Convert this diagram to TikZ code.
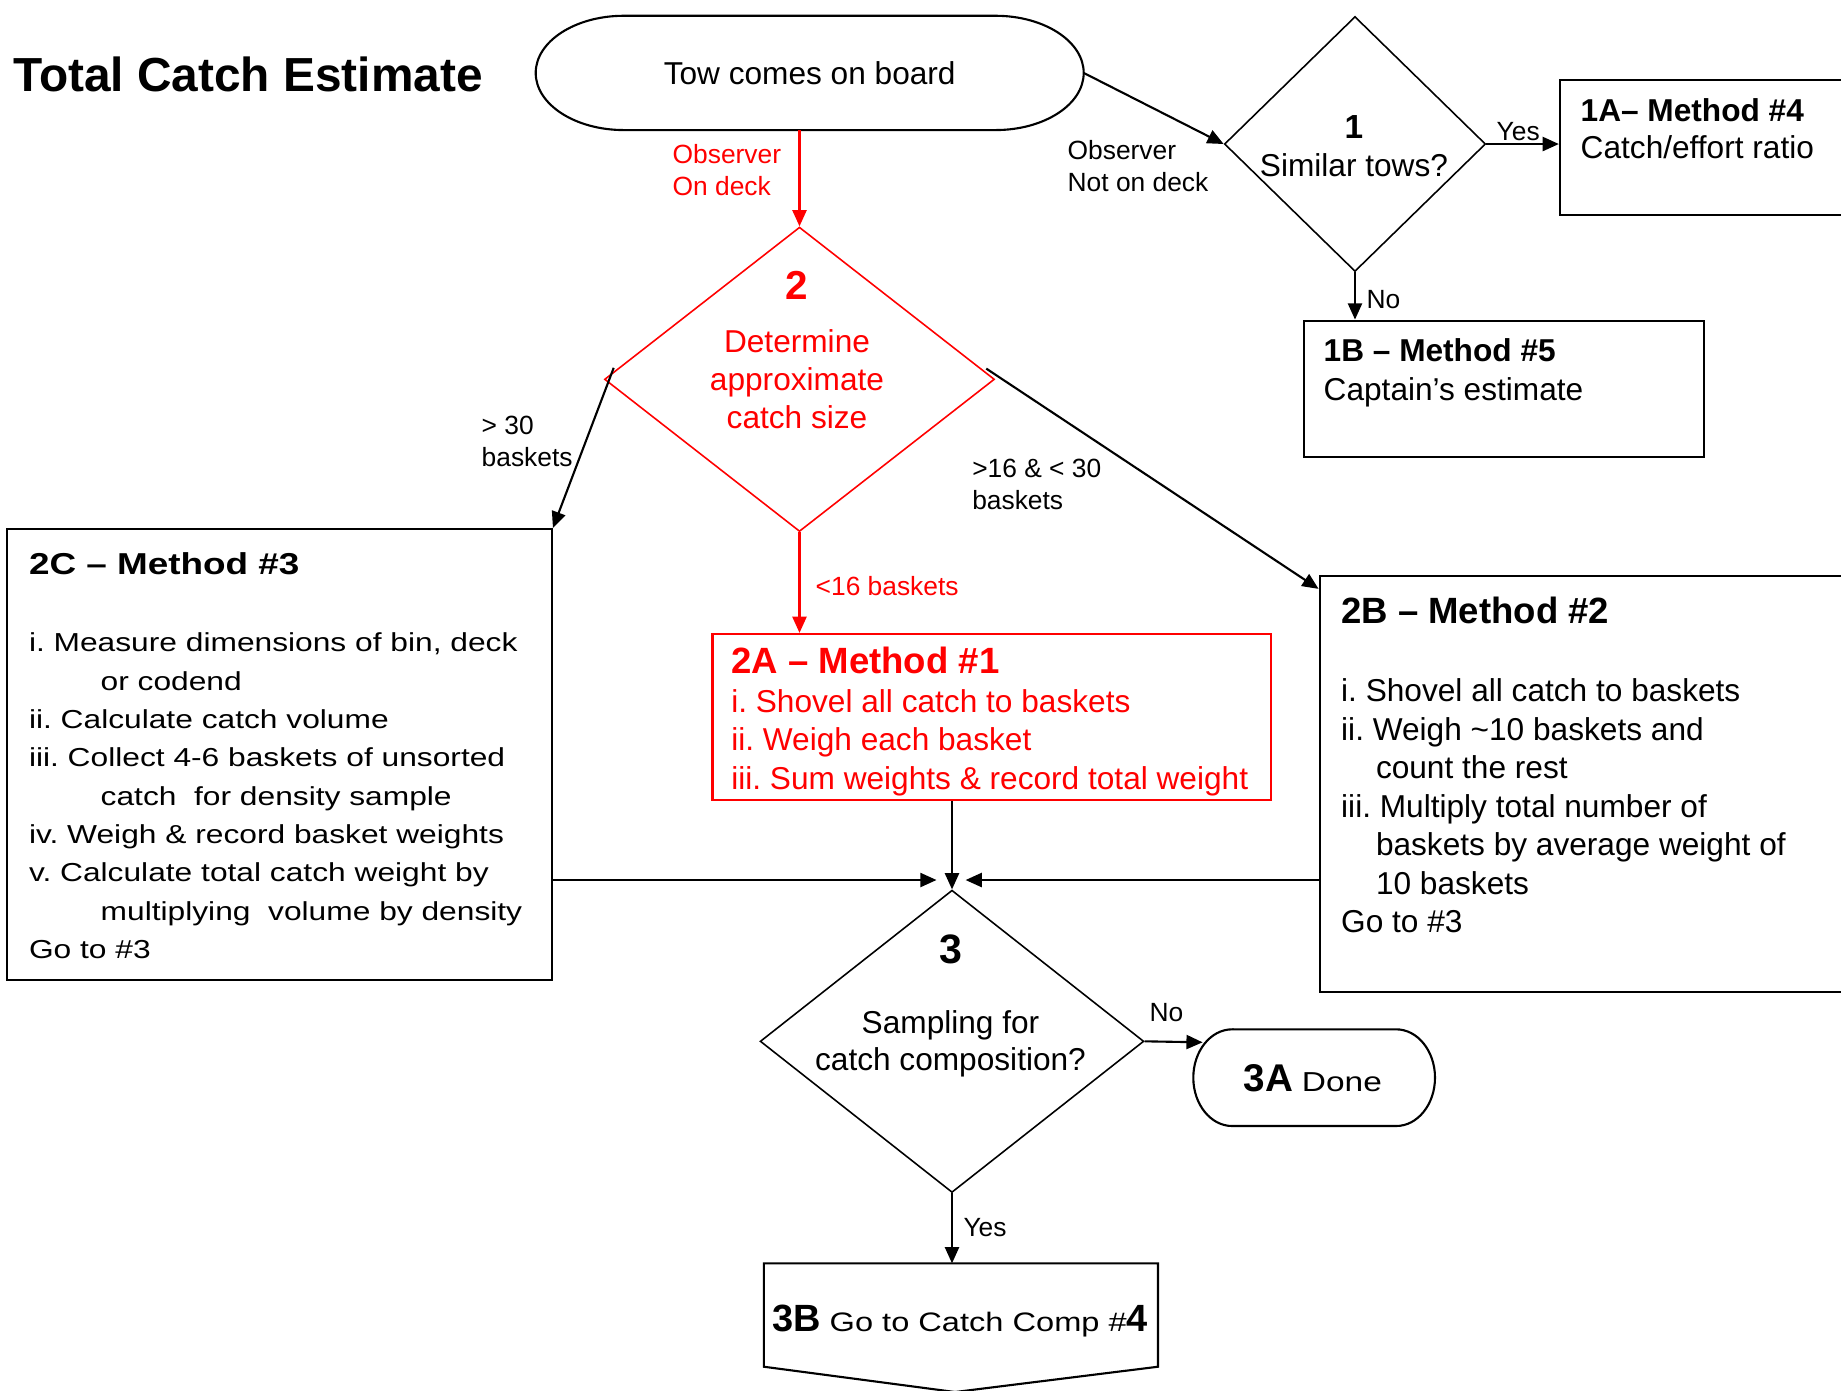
\documentclass[tikz,border=0pt]{standalone}
\usepackage{fontspec}
\setmainfont{Liberation Sans}
\newfontfamily\widefont[FakeStretch=1.22]{Liberation Sans}
\usetikzlibrary{shapes.geometric,arrows.meta,calc}
\definecolor{flowred}{RGB}{255,0,0}
\frenchspacing

\begin{document}
\begin{tikzpicture}[
  box/.style={draw, line width=0.65pt, inner sep=0pt},
  dec/.style={draw, diamond, line width=0.45pt, inner sep=0pt},
  term/.style={inner sep=0pt, outer sep=0pt},
  txt/.style={anchor=base west, inner sep=0pt, align=left, font=\fontsize{9}{10.95}\selectfont},
  ctxt/.style={anchor=base, inner sep=0pt, align=center, font=\fontsize{9}{10.9}\selectfont},
  lbl/.style={anchor=base west, inner sep=0pt, align=left, font=\fontsize{7.5}{9.1}\selectfont},
  arr/.style={-{Triangle[length=4.6pt,width=4pt]}, line width=0.6pt},
]
\useasboundingbox (0,0) rectangle (18.41,-13.90);

\node[anchor=base west, inner sep=0pt, font=\bfseries\fontsize{13.6}{16}\selectfont] (title) at (0.127,-0.917) {Total Catch Estimate};

% start terminator
\node[term, minimum width=5.48cm, minimum height=1.143cm, font=\fontsize{9}{10.9}\selectfont] (start) at (8.097,-0.729) {Tow comes on board};
\draw[line width=0.6pt] ([xshift=0.882cm]start.north west) -- ([xshift=-0.882cm]start.north east)
  arc[start angle=90, end angle=-90, x radius=0.882cm, y radius=0.5715cm]
  -- ([xshift=0.882cm]start.south west)
  arc[start angle=270, end angle=90, x radius=0.882cm, y radius=0.5715cm] -- cycle;

% decisions
\node[dec, minimum width=2.612cm, minimum height=2.55cm] (d1) at (13.55,-1.44) {};
\node[dec, draw=flowred, minimum width=3.90cm, minimum height=3.044cm] (d2) at (7.995,-3.793) {};
\node[dec, minimum width=3.837cm, minimum height=3.023cm] (d3) at (9.52,-10.413) {};

% multi-line texts sit on the baseline of their last line
\node[ctxt] (t1) at (13.54,-1.767) {{\bfseries\fontsize{9.5}{10}\selectfont 1}\\Similar tows?};
\node[ctxt, text=flowred] (t2) at (7.97,-4.286) {{\bfseries\fontsize{11.5}{12}\selectfont 2}\\[3.9pt]Determine\\approximate\\catch size};
\node[ctxt] (t3) at (9.505,-10.70) {{\bfseries\fontsize{11.7}{12}\selectfont 3}\\[9pt]Sampling for\\[-0.5pt]catch composition?};

% method boxes
\node[box, minimum width=3.10cm, minimum height=1.35cm] (b1a) at (17.15,-1.475) {};
\node[box, minimum width=3.997cm, minimum height=1.366cm] (b1b) at (15.0385,-3.89) {};
\node[box, minimum width=5.445cm, minimum height=4.51cm] (b2c) at (2.7955,-7.545) {};
\node[box, draw=flowred, minimum width=5.589cm, minimum height=1.66cm] (b2a) at (9.9185,-7.17) {};
\node[box, minimum width=5.503cm, minimum height=4.166cm] (b2b) at (15.9485,-7.84) {};

\node[txt] (t1a) at (15.80,-1.583) {{\bfseries 1A– Method \#4}\\[-0.5pt]Catch/effort ratio};
\node[txt] (t1b) at (13.23,-4.00) {{\bfseries 1B – Method \#5}\\Captain’s estimate};
\node[txt, font=\widefont\fontsize{7.4}{10.9}\selectfont] (t2c) at (0.283,-9.583)
  {{\bfseries\fontsize{8.6}{10.9}\selectfont 2C – Method \#3}\\[11.1pt]
   i. Measure dimensions of bin, deck\\
   \hspace*{20.4pt}or codend\\
   ii. Calculate catch volume\\
   iii. Collect 4-6 baskets of unsorted\\
   \hspace*{20.4pt}catch\ \ for density sample\\
   iv. Weigh \& record basket weights\\
   v. Calculate total catch weight by\\
   \hspace*{20.4pt}multiplying\ \ volume by density\\
   Go to \#3};
\node[txt, text=flowred] (t2a) at (7.306,-7.893)
  {{\bfseries\fontsize{10.4}{10.95}\selectfont 2A – Method \#1}\\
   i. Shovel all catch to baskets\\
   ii. Weigh each basket\\
   iii. Sum weights \& record total weight};
\node[txt] (t2b) at (13.405,-9.327)
  {{\bfseries\fontsize{10.4}{10.95}\selectfont 2B – Method \#2}\\[11.2pt]
   i. Shovel all catch to baskets\\
   ii. Weigh \textasciitilde10 baskets and\\
   \hspace*{9.9pt}count the rest\\
   iii. Multiply total number of\\
   \hspace*{9.9pt}baskets by average weight of\\
   \hspace*{9.9pt}10 baskets\\
   Go to \#3};

% end terminator and off-page connector
\node[term, minimum width=2.417cm, minimum height=0.967cm] (a3a) at (13.1415,-10.7765) {};
\draw[line width=0.6pt] ([xshift=0.389cm]a3a.north west) -- ([xshift=-0.389cm]a3a.north east)
  arc[start angle=90, end angle=-90, x radius=0.389cm, y radius=0.4835cm]
  -- ([xshift=0.389cm]a3a.south west)
  arc[start angle=270, end angle=90, x radius=0.389cm, y radius=0.4835cm] -- cycle;
\node[txt] (t3a) at (12.43,-10.917) {{\bfseries\fontsize{11}{12}\selectfont 3A} {\widefont\fontsize{7.8}{10}\selectfont Done}};

\node[term, minimum width=3.942cm, minimum height=1.034cm] (b3b) at (9.609,-13.15) {};
\coordinate (b3tip) at (9.55,-13.92);
\draw[line width=0.6pt] (b3b.south west) -- (b3b.north west) -- (b3b.north east) -- (b3b.south east) -- (b3tip) -- cycle;
\node[txt] (t3b) at (7.717,-13.317) {{\bfseries\fontsize{10.8}{12}\selectfont 3B} {\widefont\fontsize{7.6}{10}\selectfont Go to Catch Comp \#}{\bfseries\fontsize{10.8}{12}\selectfont 4}};

% connector labels
\node[lbl, text=flowred] (lobson) at (6.72,-1.957) {Observer\\On deck};
\node[lbl] (lobsoff) at (10.67,-1.91) {Observer\\Not on deck};
\node[lbl] (lyes1) at (14.96,-1.40) {Yes};
\node[lbl] (lno1) at (13.66,-3.083) {No};
\node[lbl] (lbig) at (4.81,-4.66) {> 30\\baskets};
\node[lbl] (lmid) at (9.716,-5.09) {>16 \& < 30\\baskets};
\node[lbl, text=flowred] (lsmall) at (8.15,-5.95) {<16 baskets};
\node[lbl] (lno3) at (11.49,-10.217) {No};
\node[lbl] (lyes3) at (9.628,-12.367) {Yes};

% connectors
\coordinate (m3l) at (9.365,-8.80);
\coordinate (m3r) at (9.656,-8.80);
\coordinate (a3in) at ($(a3a.north west)+(0.093,-0.13)$);
\draw[arr, flowred] (d2.north |- start.south) -- (d2.north);
\draw[arr] (start.east) -- (d1.west);
\draw[arr] (d1.east) -- (d1.east -| b1a.west);
\draw[arr] (d1.south) -- (d1.south |- b1b.north);
\draw[arr] ([shift={(0.1,0.115)}]d2.west) -- (b2c.north east);
\draw[arr] ([shift={(-0.09,0.107)}]d2.east) -- ([yshift=-0.143cm]b2b.north west);
\draw[arr, flowred] (d2.south) -- (d2.south |- b2a.north);
\draw[arr] (d3.north |- b2a.south) -- (d3.north);
\draw[arr] (b2c.east |- m3l) -- (m3l);
\draw[arr] (b2b.west |- m3r) -- (m3r);
\draw[arr] (d3.east) -- (a3in);
\draw[arr] (d3.south) -- (d3.south |- b3b.north);
\end{tikzpicture}
\end{document}
